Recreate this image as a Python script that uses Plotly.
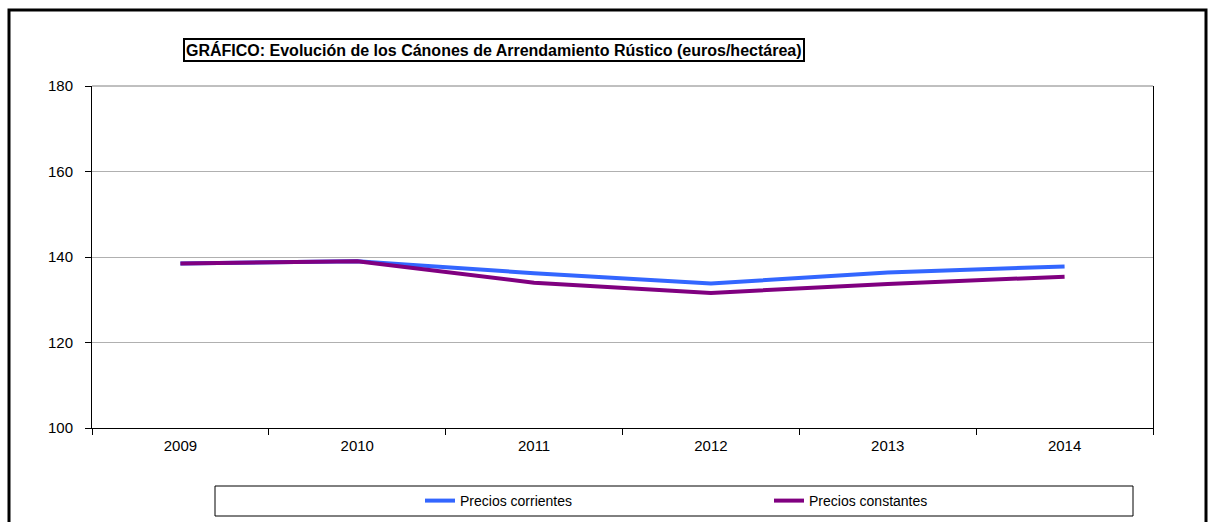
import plotly.graph_objects as go

years = ["2009", "2010", "2011", "2012", "2013", "2014"]
precios_corrientes = [138.5, 139.0, 136.2, 133.8, 136.4, 137.8]
precios_constantes = [138.5, 139.0, 134.0, 131.6, 133.7, 135.4]
title_text = "GRÁFICO: Evolución de los Cánones de Arrendamiento Rústico (euros/hectárea)"

fig = go.Figure()
fig.add_trace(go.Scatter(x=years, y=precios_corrientes, mode="lines", name="Precios corrientes",
                         line=dict(color="#3366FF", width=4)))
fig.add_trace(go.Scatter(x=years, y=precios_constantes, mode="lines", name="Precios constantes",
                         line=dict(color="#800080", width=4)))

W, H = 1208, 522
L, R, T, B = 92, 55, 86, 94
pw = W - L - R
ph = H - T - B

def px(x):
    return (x - L) / pw

def py(y):
    return (H - B - y) / ph

fig.update_layout(
    width=W, height=H,
    margin=dict(l=L, r=R, t=T, b=B, autoexpand=False),
    paper_bgcolor="white", plot_bgcolor="white",
    font=dict(family="Liberation Sans, Arial, sans-serif", size=15, color="black"),
    showlegend=True,
    legend=dict(orientation="h", xref="container", yref="container",
                x=420 / W, y=(H - 501) / H, xanchor="left", yanchor="middle",
                bgcolor="rgba(0,0,0,0)", borderwidth=0, font=dict(size=14),
                entrywidth=304, entrywidthmode="pixels", tracegroupgap=0),
    xaxis=dict(type="category", range=[-0.5, 5.5], showline=True, linecolor="black", linewidth=1,
               ticks="outside", tickson="boundaries", ticklen=6, tickcolor="black",
               showgrid=False, zeroline=False, mirror=False, tickfont=dict(size=15),
               ticklabelstandoff=4),
    yaxis=dict(range=[100, 180], dtick=20, showline=True, linecolor="black", linewidth=1,
               mirror=True, ticks="outside", ticklen=6, tickcolor="black",
               showgrid=True, gridcolor="#b0b0b0", gridwidth=1, zeroline=False,
               tickfont=dict(size=15), ticklabelstandoff=9),
)

shapes = []
# top gridline at 180 (slightly darker)
shapes.append(dict(type="line", xref="paper", yref="paper", x0=0, x1=1, y0=1, y1=1,
                   line=dict(color="#808080", width=1)))
# legend box
shapes.append(dict(type="rect", xref="paper", yref="paper", x0=px(215), x1=px(1133), y0=py(516), y1=py(486),
                   line=dict(color="black", width=1), layer="below"))
# outer frame
shapes.append(dict(type="rect", xref="paper", yref="paper", x0=px(9), x1=px(1206), y0=py(540), y1=py(10),
                   line=dict(color="black", width=3)))
fig.update_layout(shapes=shapes)

fig.add_annotation(xref="paper", yref="paper", x=px(494), y=py(50), xanchor="center", yanchor="middle",
                   text="<b>" + title_text + "</b>", showarrow=False,
                   font=dict(size=16, color="black"), bordercolor="black", borderwidth=2,
                   borderpad=1, bgcolor="white")

fig.write_html("out.html", config={"displayModeBar": False},
               post_script="document.body.style.margin='0';document.body.style.padding='0';document.body.style.overflow='hidden';")
